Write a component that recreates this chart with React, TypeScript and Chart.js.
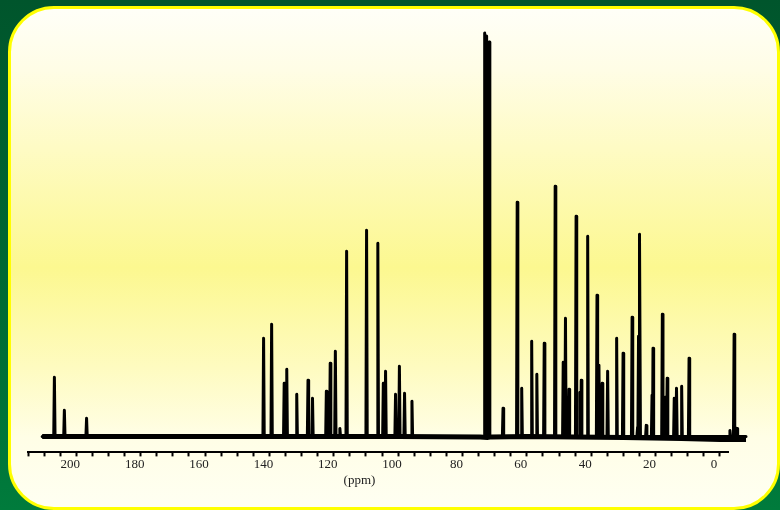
import React, { useEffect, useRef } from "react";
import { Chart, registerables } from "chart.js";

Chart.register(...registerables);

// Peak positions (ppm) and heights (intensity units above baseline)
const peakPpm = [
  206.8, 203.7, 196.8,
  141.8, 139.3, 135.4, 134.6, 131.5, 128.0, 126.6, 122.3, 121.1, 119.5, 118.1,
  116.0, 109.8, 106.3, 104.6, 103.9, 100.8, 99.6, 98.0, 95.7,
  73.1, 72.5, 71.7,
  67.4, 63.0, 61.6, 58.5, 56.9, 54.6, 51.2, 48.7, 48.0, 46.9, 44.7, 43.5, 43.1,
  41.1, 38.2, 37.6, 36.6, 34.9, 32.1, 30.1, 27.3, 25.6, 25.3, 24.9, 22.9,
  21.1, 20.8, 17.9, 17.0, 16.4, 14.2, 13.5, 11.9, 9.6,
  -3.1, -4.4, -5.3,
];
const peakHeight = [
  59, 26, 18,
  98, 112, 53, 67, 42, 56, 38, 45, 73, 85, 8,
  185, 206, 193, 53, 65, 42, 70, 43, 35,
  403, 400, 394,
  28, 234, 48, 95, 62, 93, 250, 74, 118, 47, 220, 44, 56,
  200, 141, 71, 53, 65, 98, 83, 119, 9, 100, 202, 11,
  41, 88, 122, 39, 58, 38, 48, 50, 78,
  6, 102, 8,
];

// Baseline drift
const baselinePpm = [210.6, 150, 100, 74.5, 72.3, 71, 60, 30, 12, 0, -8.1];
const baselineLevel = [0, 0, 0, -0.5, -1, -0.5, 0, -1, -2, -3, -3];

// Axis
const axisMin = -2.5;
const axisMax = 215;
const tickStep = 5;
const labelValues = [200, 180, 160, 140, 120, 100, 80, 60, 40, 20, 0];
const axisTitle = "(ppm)";

const spectrumStart = 210.6;
const spectrumEnd = -8.1;

export default function App() {
  const ref = useRef<HTMLCanvasElement | null>(null);

  useEffect(() => {
    if (!ref.current) return;
    const HALF = 0.2;
    const order = peakPpm
      .map((_, i) => i)
      .sort((a, b) => peakPpm[b] - peakPpm[a]);
    const peakPts: { x: number; y: number }[] = [{ x: spectrumStart, y: 0 }];
    order.forEach((i) => {
      peakPts.push({ x: peakPpm[i] + HALF, y: 0 });
      peakPts.push({ x: peakPpm[i], y: peakHeight[i] });
      peakPts.push({ x: peakPpm[i] - HALF, y: 0 });
    });
    peakPts.push({ x: spectrumEnd, y: 0 });

    const basePts = baselinePpm.map((p, i) => ({ x: p, y: baselineLevel[i] }));

    const titlePlugin = {
      id: "axisTitlePlugin",
      afterDraw(chart: any) {
        const ctx = chart.ctx;
        const xs = chart.scales.x;
        ctx.save();
        ctx.font = "13px 'Liberation Serif'";
        ctx.fillStyle = "#222";
        ctx.textAlign = "center";
        ctx.textBaseline = "alphabetic";
        ctx.fillText(axisTitle, xs.getPixelForValue(112), xs.bottom + 12);
        ctx.restore();
      },
    };

    const chart = new Chart(ref.current, {
      type: "line",
      data: {
        datasets: [
          {
            data: basePts,
            borderColor: "#000",
            borderWidth: 5,
            pointRadius: 0,
            tension: 0,
            clip: false as any,
          },
          {
            data: peakPts,
            borderColor: "#000",
            borderWidth: 3,
            borderJoinStyle: "round",
            borderCapStyle: "round",
            pointRadius: 0,
            tension: 0,
            clip: false as any,
          },
        ],
      },
      options: {
        animation: false,
        responsive: false,
        maintainAspectRatio: false,
        devicePixelRatio: 1,
        events: [],
        layout: { padding: { left: 28, right: 52, top: 20, bottom: 38 } },
        plugins: { legend: { display: false }, tooltip: { enabled: false } },
        scales: {
          x: {
            type: "linear",
            reverse: true,
            min: axisMin,
            max: axisMax,
            ticks: {
              stepSize: tickStep,
              autoSkip: false,
              maxRotation: 0,
              includeBounds: false,
              padding: 0,
              labelOffset: -6,
              color: "#222",
              font: { family: "'Liberation Serif', serif", size: 13 },
              callback: (v: any) => (labelValues.includes(Number(v)) ? String(v) : ""),
            },
            grid: {
              drawOnChartArea: false,
              drawTicks: true,
              tickLength: 4,
              tickWidth: 2,
              tickColor: "#000",
            },
            border: { display: true, color: "#000", width: 2 },
          },
          y: { display: false, min: -16, max: 416 },
        },
      },
      plugins: [titlePlugin],
    });
    return () => chart.destroy();
  }, []);

  return (
    <div
      style={{
        position: "absolute",
        left: 0,
        top: 0,
        width: 780,
        height: 510,
        overflow: "hidden",
        background: "linear-gradient(to bottom, #00552c 0%, #006a34 60%, #007b3c 100%)",
      }}
    >
      <div
        style={{
          position: "absolute",
          left: 8,
          top: 6,
          width: 772,
          height: 504,
          boxSizing: "border-box",
          border: "3px solid #ffff00",
          borderRadius: 46,
          background:
            "linear-gradient(to bottom, #fffff8 0%, #fffde6 12%, #fefbc4 28%, #fcf890 52%, #fefbc0 72%, #fffee6 86%, #fffff2 100%)",
        }}
      />
      <canvas
        ref={ref}
        width={780}
        height={510}
        style={{ position: "absolute", left: 0, top: 0, width: 780, height: 510 }}
      />
    </div>
  );
}
